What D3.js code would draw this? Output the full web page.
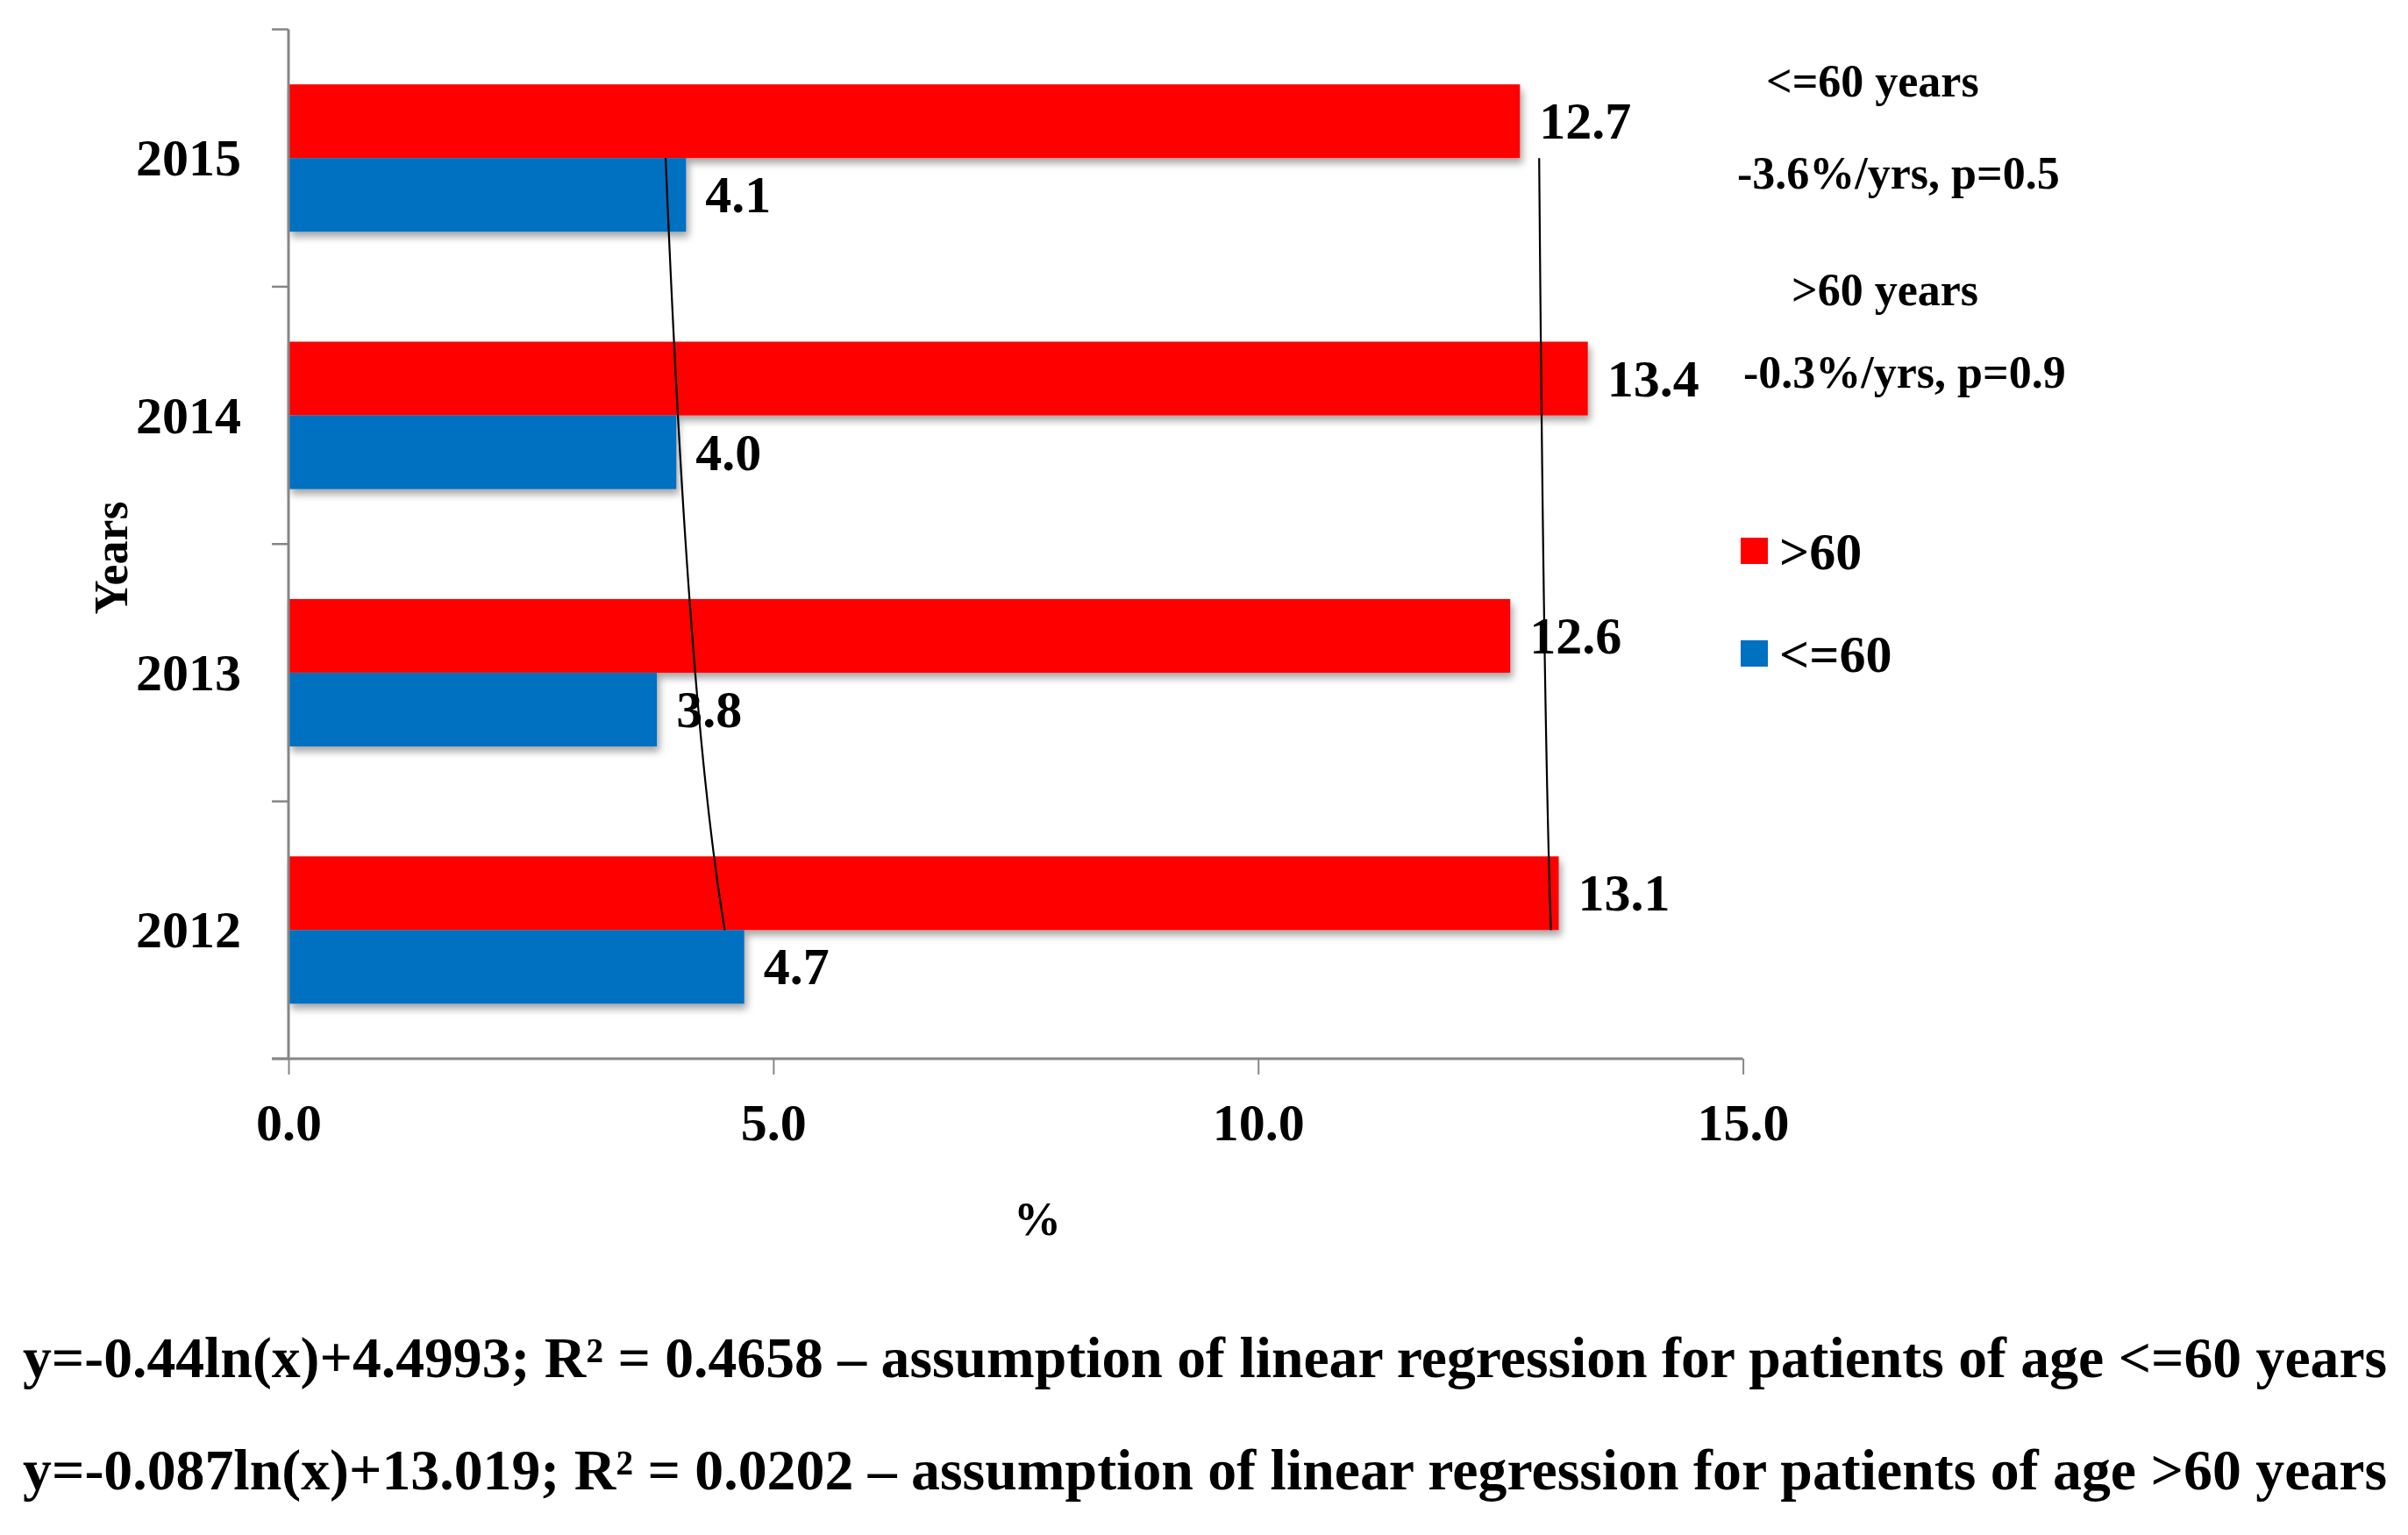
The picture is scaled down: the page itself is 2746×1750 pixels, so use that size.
<!DOCTYPE html>
<html><head><meta charset="utf-8">
<script src="https://cdn.jsdelivr.net/npm/d3@7"></script>
<style>
html,body{margin:0;padding:0;background:#fff;}
svg{display:block;}
text{font-family:"Liberation Serif","Times New Roman",serif;font-weight:bold;fill:#000;}
</style></head>
<body>
<svg id="chart" width="2746" height="1750"></svg>
<script>
// ---- data ----
const years = ["2012", "2013", "2014", "2015"];
const seriesKeys = [">60", "<=60"];
const over60 = [13.1, 12.6, 13.4, 12.7];
const upto60 = [4.7, 3.8, 4.0, 4.1];
const seriesColors = ["#FF0000", "#0070C0"];
const xTicks = [0, 5, 10, 15];
// logarithmic trendline coefficients (y = a*ln(x) + b), as printed below the chart
const trendA = [-0.087, -0.44];
const trendB = [13.019, 4.4993];
const annotations = ["<=60 years", "-3.6%/yrs, p=0.5", ">60 years", "-0.3%/yrs, p=0.9"];
const equations = [
  "y=-0.44ln(x)+4.4993; R\u00B2 = 0.4658 \u2013 assumption of linear regression for patients of age <=60 years",
  "y=-0.087ln(x)+13.019; R\u00B2 = 0.0202 \u2013 assumption of linear regression for patients of age >60 years"
];
const values = [over60, upto60];

(function () {
// ---- layout ----
const svg = d3.select("#chart");
const pLeft = 329, pRight = 1987.6, pTop = 33.5, pBottom = 1207;

const x = d3.scaleLinear().domain([0, 15]).range([pLeft, pRight]);
const y0 = d3.scaleBand().domain(years.slice().reverse()).range([pTop, pBottom]).padding(0);
const y1 = d3.scaleBand().domain(seriesKeys).range([0, y0.bandwidth()]).paddingInner(0).paddingOuter(0.746);

// shadow filter
const defs = svg.append("defs");
const f = defs.append("filter").attr("id", "sh").attr("x", "-5%").attr("y", "-20%").attr("width", "115%").attr("height", "160%");
f.append("feDropShadow").attr("dx", 3).attr("dy", 6).attr("stdDeviation", 4).attr("flood-color", "#000").attr("flood-opacity", 0.35);

// bars
const barsG = svg.append("g").attr("filter", "url(#sh)");
years.forEach((yr, i) => {
  seriesKeys.forEach((k, s) => {
    barsG.append("rect")
      .attr("x", x(0))
      .attr("y", y0(yr) + y1(k))
      .attr("width", x(values[s][i]) - x(0))
      .attr("height", y1.bandwidth())
      .attr("fill", seriesColors[s]);
  });
});

// axes
const axisColor = "#868686";
const xAxis = svg.append("g").attr("transform", `translate(0,${pBottom})`)
  .call(d3.axisBottom(x).tickValues(xTicks).tickSize(18).tickPadding(30).tickFormat(d3.format(".1f")));
xAxis.select(".domain").attr("stroke", axisColor).attr("stroke-width", 3).attr("d", `M${pLeft - 19},0H${pRight}`);
xAxis.selectAll(".tick line").attr("stroke", axisColor).attr("stroke-width", 2);
xAxis.selectAll(".tick text").attr("font-size", 60).attr("fill", "#000").attr("font-family", null).attr("dy", null).attr("y", 93);
xAxis.attr("font-family", null).attr("font-size", null);

const yAxis = svg.append("g").attr("transform", `translate(${pLeft},0)`);
yAxis.append("line").attr("x1", 0).attr("x2", 0).attr("y1", pTop).attr("y2", pBottom).attr("stroke", axisColor).attr("stroke-width", 3);
const bounds = years.map(yr => y0(yr)).concat([pBottom]);
yAxis.selectAll("line.tk").data(bounds).enter().append("line").attr("class", "tk")
  .attr("x1", -19).attr("x2", 0).attr("y1", d => d).attr("y2", d => d)
  .attr("stroke", axisColor).attr("stroke-width", 2.5);
yAxis.selectAll("text.yl").data(years).enter().append("text").attr("class", "yl")
  .attr("x", -54).attr("y", d => y0(d) + y0.bandwidth() / 2 + 20)
  .attr("text-anchor", "end").attr("font-size", 60).text(d => d);

// axis titles
svg.append("text").attr("transform", `translate(145,636) rotate(-90)`)
  .attr("text-anchor", "middle").attr("font-size", 54).text("Years");
svg.append("text").attr("x", 1183).attr("y", 1408).attr("text-anchor", "middle").attr("font-size", 54).text("%");

// value labels
years.forEach((yr, i) => {
  seriesKeys.forEach((k, s) => {
    svg.append("text")
      .attr("x", x(values[s][i]) + 22)
      .attr("y", y0(yr) + y1(k) + y1.bandwidth() / 2 + 20)
      .attr("font-size", 60).text(values[s][i].toFixed(1));
  });
});

// trendlines
const yCont = d3.scaleLinear().domain([1, 4]).range([y0("2012") + y0.bandwidth() / 2, y0("2015") + y0.bandwidth() / 2]);
const line = d3.line().x(d => x(d[1])).y(d => yCont(d[0]));
[0, 1].forEach(s => {
  const pts = d3.range(1, 4.0001, 0.05).map(t => [t, trendA[s] * Math.log(t) + trendB[s]]);
  svg.append("path").attr("d", line(pts)).attr("fill", "none").attr("stroke", "#000").attr("stroke-width", 2.2);
});

// annotations
const annX = [2014, 1981, 2043, 1988];
const annY = [110, 215, 348, 442];
annotations.forEach((t, i) => {
  svg.append("text").attr("x", annX[i]).attr("y", annY[i]).attr("font-size", 52).text(t);
});

// legend
const legY = [628, 745];
seriesKeys.forEach((k, s) => {
  svg.append("rect").attr("x", 1985).attr("y", legY[s] - 15).attr("width", 31).attr("height", 30).attr("fill", seriesColors[s]);
  svg.append("text").attr("x", 2029).attr("y", legY[s] + 21).attr("font-size", 60).text(k);
});

// equations
const eqY = [1570, 1698];
equations.forEach((t, i) => {
  const tx = svg.append("text").attr("x", 26).attr("y", eqY[i]).attr("font-size", 60).text(t);
  const w = tx.node().getComputedTextLength();
  tx.attr("font-size", 60 * 2697 / w);
});
})();
</script>
</body></html>
